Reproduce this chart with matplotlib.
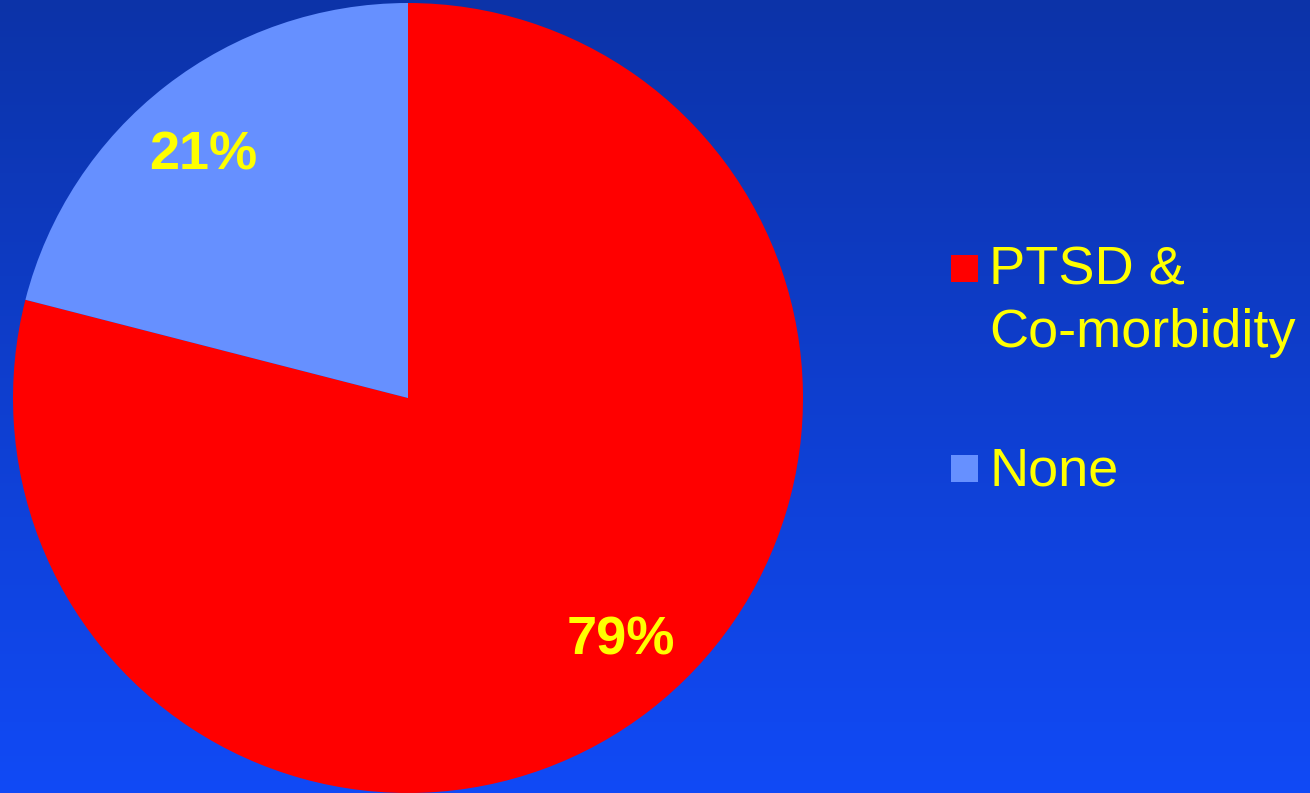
import matplotlib.pyplot as plt
import matplotlib.patches as mpatches
import numpy as np

plt.rcParams['font.family'] = ['Liberation Sans', 'DejaVu Sans']

labels = ["PTSD &\nCo-morbidity", "None"]
shares = [79, 21]
colors = ["#ff0000", "#6690ff"]
text_color = "#ffff00"

W, H = 1310, 793
fig = plt.figure(figsize=(W / 100, H / 100), dpi=100)

# background gradient, dark blue at top to brighter blue at bottom
bg = fig.add_axes([0, 0, 1, 1])
top = np.array([12, 51, 168]) / 255
bottom = np.array([17, 74, 246]) / 255
t = np.linspace(0, 1, 256)[:, None]
grad = top[None, :] * (1 - t) + bottom[None, :] * t
bg.imshow(grad[:, None, :], aspect="auto", extent=[0, 1, 0, 1])
bg.set_axis_off()

# pie
ax = fig.add_axes([13 / W, 0 / H, 790 / W, 790 / H])
wedges, texts, autotexts = ax.pie(
    shares, colors=colors, startangle=90, counterclock=False,
    autopct="%d%%", pctdistance=0.81, radius=1.0,
    wedgeprops=dict(linewidth=0),
    textprops=dict(color=text_color, fontsize=39, fontweight="bold"),
)
# small nudges of the percentage labels (pixels / radius)
nudges = [(17, 10), (-9, -10)]
for at, (dx, dy) in zip(autotexts, nudges):
    x, y = at.get_position()
    at.set_position((x + dx / 395, y + dy / 395))
ax.set_xlim(-1, 1)
ax.set_ylim(-1, 1)
ax.set_aspect("equal")
ax.set_axis_off()

# legend drawn by hand so the square sits on the first text line
sq = 27
box_x, text_x = 951, 989
baselines = [285, 485]
for lab, col, base in zip(labels, colors, baselines):
    fig.patches.append(mpatches.Rectangle(
        (box_x / W, 1 - (base - 3) / H), sq / W, sq / H,
        transform=fig.transFigure, facecolor=col, edgecolor="none"))
    fig.text(text_x / W, 1 - base / H, lab.split("\n")[0], color=text_color,
             fontsize=39, va="baseline", ha="left")
    for k, line in enumerate(lab.split("\n")[1:], start=1):
        fig.text(text_x / W, 1 - (base + 62 * k) / H, line, color=text_color,
                 fontsize=39, va="baseline", ha="left")

fig.savefig("out.png", dpi=100)
